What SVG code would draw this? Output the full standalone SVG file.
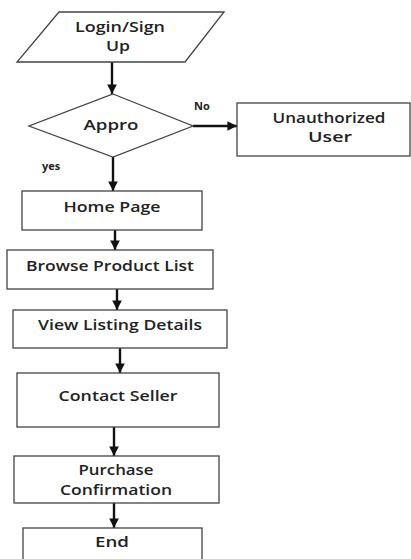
<svg xmlns="http://www.w3.org/2000/svg" width="411" height="559" viewBox="0 0 411 559">
<style>
.n{fill:#fff;stroke:#444;stroke-width:1.3}
.t{font-family:"Open Sans","Liberation Sans",sans-serif;font-size:15px;font-weight:600;fill:#222;text-anchor:middle}
.s{font-family:"Open Sans","Liberation Sans",sans-serif;font-size:11px;font-weight:700;fill:#222}
.c{stroke:#111;stroke-width:2.4;fill:none;marker-end:url(#a)}
</style>
<defs>
<marker id="a" viewBox="0 0 10 10" refX="10" refY="5" markerWidth="4" markerHeight="4" orient="auto" markerUnits="strokeWidth">
<path d="M0,0L10,5L0,10z" fill="#111"/>
</marker>
</defs>
<rect width="411" height="559" fill="#fff"/>
<g id="connectors">
<line class="c" x1="112" y1="62" x2="112" y2="94"/>
<line class="c" x1="193" y1="126" x2="237" y2="126"/>
<line class="c" x1="113" y1="157" x2="113" y2="191"/>
<line class="c" x1="115" y1="230" x2="115" y2="250"/>
<line class="c" x1="117" y1="289" x2="117" y2="310"/>
<line class="c" x1="120" y1="348" x2="120" y2="373"/>
<line class="c" x1="114" y1="427" x2="114" y2="456"/>
<line class="c" x1="114" y1="503" x2="114" y2="528"/>
<text class="s" x="194" y="110">No</text>
<text class="s" x="42" y="170">yes</text>
</g>
<g id="login">
<polygon class="n" points="59,12 224,12 185,62 17,62"/>
<text class="t" x="120" y="32" textLength="90" lengthAdjust="spacingAndGlyphs">Login/Sign</text>
<text class="t" x="118" y="51" textLength="24" lengthAdjust="spacingAndGlyphs">Up</text>
</g>
<g id="approve">
<polygon class="n" points="113,94 193,126 113,157 29,126"/>
<text class="t" x="111" y="130" textLength="55" lengthAdjust="spacingAndGlyphs">Appro</text>
</g>
<g id="unauthorized">
<rect class="n" x="237" y="103" width="173" height="53"/>
<text class="t" x="329" y="123" textLength="113" lengthAdjust="spacingAndGlyphs">Unauthorized</text>
<text class="t" x="330" y="142" textLength="44" lengthAdjust="spacingAndGlyphs">User</text>
</g>
<g id="home">
<rect class="n" x="22" y="191" width="180" height="39"/>
<text class="t" x="112" y="212" textLength="97" lengthAdjust="spacingAndGlyphs">Home Page</text>
</g>
<g id="browse">
<rect class="n" x="7" y="250" width="206" height="39"/>
<text class="t" x="110" y="271" textLength="168" lengthAdjust="spacingAndGlyphs">Browse Product List</text>
</g>
<g id="view">
<rect class="n" x="13" y="310" width="214" height="38"/>
<text class="t" x="120" y="330" textLength="164" lengthAdjust="spacingAndGlyphs">View Listing Details</text>
</g>
<g id="contact">
<rect class="n" x="17" y="373" width="202" height="54"/>
<text class="t" x="118" y="401" textLength="119" lengthAdjust="spacingAndGlyphs">Contact Seller</text>
</g>
<g id="purchase">
<rect class="n" x="14" y="456" width="205" height="47"/>
<text class="t" x="116" y="475" textLength="75" lengthAdjust="spacingAndGlyphs">Purchase</text>
<text class="t" x="116" y="495" textLength="112" lengthAdjust="spacingAndGlyphs">Confirmation</text>
</g>
<g id="end">
<rect class="n" x="23" y="528" width="179" height="40"/>
<text class="t" x="112" y="547" textLength="34" lengthAdjust="spacingAndGlyphs">End</text>
</g>
</svg>
